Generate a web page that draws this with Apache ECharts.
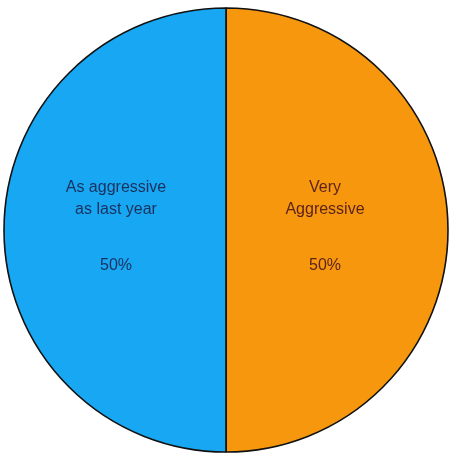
<!DOCTYPE html>
<html>
<head>
<meta charset="utf-8">
<script src="https://cdn.jsdelivr.net/npm/echarts@6/dist/echarts.min.js"></script>
<style>
  html, body { margin: 0; padding: 0; background: #ffffff; }
  #chart { width: 450px; height: 457px; }
</style>
</head>
<body>
<div id="chart"></div>
<script>
// Share of respondents by stance
const categories = ['Very\nAggressive', 'As aggressive\nas last year'];
const shares = [50, 50];
const sliceColors = ['#f7970e', '#17a7f3'];
const textColors = ['#5c2418', '#1a315e'];

const chart = echarts.init(document.getElementById('chart'));

chart.setOption({
  backgroundColor: '#ffffff',
  animation: false,
  series: [{
    type: 'pie',
    center: [226, 230],
    radius: 222,
    startAngle: 90,
    clockwise: true,
    data: categories.map((name, i) => ({
      name: name,
      value: shares[i],
      itemStyle: { color: sliceColors[i] },
      label: { color: textColors[i] }
    })),
    itemStyle: { borderColor: '#111111', borderWidth: 1.6 },
    label: {
      show: true,
      position: 'inside',
      fontFamily: 'Liberation Sans, Arial, sans-serif',
      fontSize: 16,
      formatter: p => p.name.split('\n').map(s => '{n|' + s + '}').join('\n') +
        '\n{g|}\n{p|' + p.percent.toFixed(0) + '%}',
      rich: {
        n: { fontSize: 16, lineHeight: 22, fontFamily: 'Liberation Sans, Arial, sans-serif' },
        g: { lineHeight: 34 },
        p: { fontSize: 16, lineHeight: 22, fontFamily: 'Liberation Sans, Arial, sans-serif' }
      }
    },
    labelLayout: p => (p.dataIndex === 0 ? { dx: -15, dy: -3 } : { dx: 4, dy: -3 }),
    labelLine: { show: false },
    emphasis: { disabled: true }
  }]
});
</script>
</body>
</html>
